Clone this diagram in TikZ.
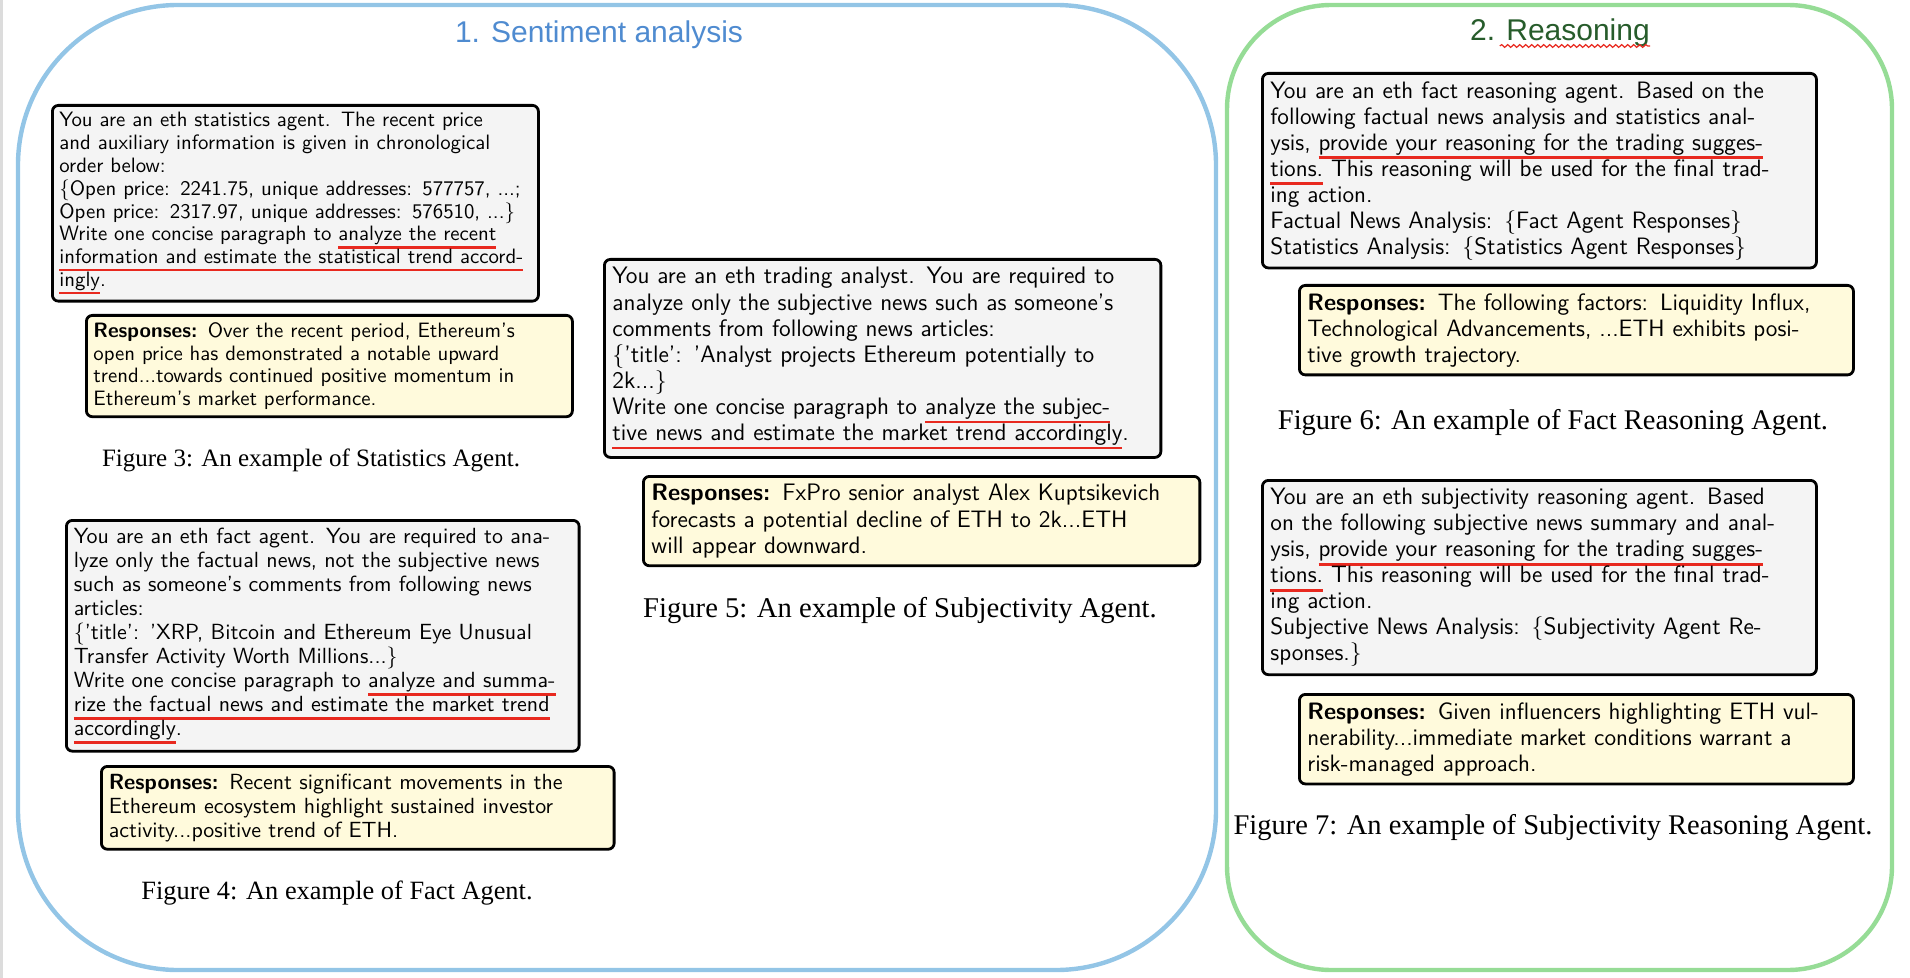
\documentclass[tikz,border=0pt]{standalone}
\usepackage{fontspec}
\usetikzlibrary{decorations.pathmorphing}
\newfontfamily\capfont{Liberation Serif}
\newfontfamily\headfont{Liberation Sans}
\definecolor{FrameBlue} {HTML}{93C5E6}
\definecolor{FrameGreen}{HTML}{96DC96}
\definecolor{HeadBlue}  {HTML}{4F8BD0}
\definecolor{HeadGreen} {HTML}{275C2B}
\definecolor{PromptGray}{HTML}{F4F4F4}
\definecolor{ReplyCream}{HTML}{FFFADC}
\definecolor{MarkRed}   {HTML}{E8291F}
\definecolor{EdgeGray}  {HTML}{DCDCDC}
\newcommand\figfont[1]{\pgfmathsetmacro\figsz{10.4*#1}\pgfmathsetmacro\figbs{11.4*#1}%
  \fontsize{\figsz}{\figbs}\selectfont}
\newcommand\capsize[1]{\pgfmathsetmacro\capsz{12.5*#1}\pgfmathsetmacro\capbs{15*#1}%
  \fontsize{\capsz}{\capbs}\selectfont}
\newsavebox\markbox
\newcommand\redul[1]{\leavevmode\sbox\markbox{#1}%
  \rlap{\textcolor{MarkRed}{\rule[-0.37em]{\wd\markbox}{0.11em}}}\usebox\markbox}
\tikzset{
  panel/.style={rounded corners=#1,line width=2.2pt},
  msgbox/.style={rectangle,rounded corners=3pt,draw=black,line width=1.4pt,
                 anchor=north west,align=left,
                 /utils/exec={\pgfmathsetmacro\boxtw{236*#1}\pgfmathsetmacro\boxsep{3.5*#1}},
                 text width=\boxtw pt,inner sep=\boxsep pt,font=\sffamily\figfont{#1}},
  prompt/.style={msgbox=#1,fill=PromptGray},
  reply/.style={msgbox=#1,fill=ReplyCream},
  figcap/.style={inner sep=0pt,font=\capfont\capsize{#1}},
  head/.style={anchor=base,inner sep=0pt,font=\headfont\fontsize{15}{18}\selectfont},
  wave/.style={draw=MarkRed,line width=0.6pt,decorate,
               decoration={snake,amplitude=0.7pt,segment length=3pt}},
}
\begin{document}
\begin{tikzpicture}[x=0.5pt,y=-0.5pt]
  \useasboundingbox (0,0) rectangle (1910,978);
  \draw[EdgeGray,line width=1.5pt] (1.5,0) -- (1.5,978);

  % panel 1
  \draw[panel=80pt,FrameBlue] (18,5) rectangle (1216,970);
  \node[head,text=HeadBlue] (senttitle) at (599,43) {1. Sentiment analysis};

  \node[prompt=1] (statq) at (51,104)
    {You are an eth statistics agent.  The recent price\\
     and auxiliary information is given in chronological\\
     order below:\\
     \{Open price:  2241.75, unique addresses:  577757, ...;\\
     Open price:  2317.97, unique addresses:  576510, ...\}\\
     Write one concise paragraph to \redul{analyze the recent}\\
     \redul{information and estimate the statistical trend accord-}\\
     \redul{ingly}.};
  \node[reply=1] (statr) at (85,314)
    {\textbf{Responses:}  Over the recent period, Ethereum's\\
     open price has demonstrated a notable upward\\
     trend...towards continued positive momentum in\\
     Ethereum's market performance.};
  \node[figcap=1] (statcap) at (311,460) {Figure 3: An example of Statistics Agent.};

  \node[prompt=1.055] (factq) at (65,519)
    {You are an eth fact agent.  You are required to ana-\\
     lyze only the factual news, not the subjective news\\
     such as someone's comments from following news\\
     articles:\\
     \{'title':  'XRP, Bitcoin and Ethereum Eye Unusual\\
     Transfer Activity Worth Millions...\}\\
     Write one concise paragraph to \redul{analyze and summa-}\\
     \redul{rize the factual news and estimate the market trend}\\
     \redul{accordingly}.};
  \node[reply=1.055] (factr) at (100,765)
    {\textbf{Responses:}  Recent significant movements in the\\
     Ethereum ecosystem highlight sustained investor\\
     activity...positive trend of ETH.};
  \node[figcap=1.055] (factcap) at (337,893) {Figure 4: An example of Fact Agent.};

  \node[prompt=1.145] (subjq) at (603,258)
    {You are an eth trading analyst.  You are required to\\
     analyze only the subjective news such as someone's\\
     comments from following news articles:\\
     \{'title':  'Analyst projects Ethereum potentially to\\
     2k...\}\\
     Write one concise paragraph to \redul{analyze the subjec-}\\
     \redul{tive news and estimate the market trend accordingly}.};
  \node[reply=1.145] (subjr) at (642,475)
    {\textbf{Responses:}  FxPro senior analyst Alex Kuptsikevich\\
     forecasts a potential decline of ETH to 2k...ETH\\
     will appear downward.};
  \node[figcap=1.145] (subjcap) at (900,611) {Figure 5: An example of Subjectivity Agent.};

  % panel 2
  \draw[panel=52pt,FrameGreen] (1227,5) rectangle (1892,970);
  \node[head,text=HeadGreen] (reastitle) at (1560,41) {2. Reasoning};
  \draw[wave] ([xshift=15pt,yshift=-2.5pt]reastitle.base west)
           -- ([yshift=-2.5pt]reastitle.base east);

  \node[prompt=1.14] (freasq) at (1261,72)
    {You are an eth fact reasoning agent.  Based on the\\
     following factual news analysis and statistics anal-\\
     ysis, \redul{provide your reasoning for the trading sugges-}\\
     \redul{tions.}  This reasoning will be used for the final trad-\\
     ing action.\\
     Factual News Analysis:  \{Fact Agent Responses\}\\
     Statistics Analysis:  \{Statistics Agent Responses\}};
  \node[reply=1.14] (freasr) at (1298,284)
    {\textbf{Responses:}  The following factors:  Liquidity Influx,\\
     Technological Advancements, ...ETH exhibits posi-\\
     tive growth trajectory.};
  \node[figcap=1.14] (freascap) at (1553,423) {Figure 6: An example of Fact Reasoning Agent.};

  \node[prompt=1.14] (sreasq) at (1261,479)
    {You are an eth subjectivity reasoning agent.  Based\\
     on the following subjective news summary and anal-\\
     ysis, \redul{provide your reasoning for the trading sugges-}\\
     \redul{tions.}  This reasoning will be used for the final trad-\\
     ing action.\\
     Subjective News Analysis:  \{Subjectivity Agent Re-\\
     sponses.\}};
  \node[reply=1.14] (sreasr) at (1298,693)
    {\textbf{Responses:}  Given influencers highlighting ETH vul-\\
     nerability...immediate market conditions warrant a\\
     risk-managed approach.};
  \node[figcap=1.14] (sreascap) at (1553,828) {Figure 7: An example of Subjectivity Reasoning Agent.};

\end{tikzpicture}
\end{document}
